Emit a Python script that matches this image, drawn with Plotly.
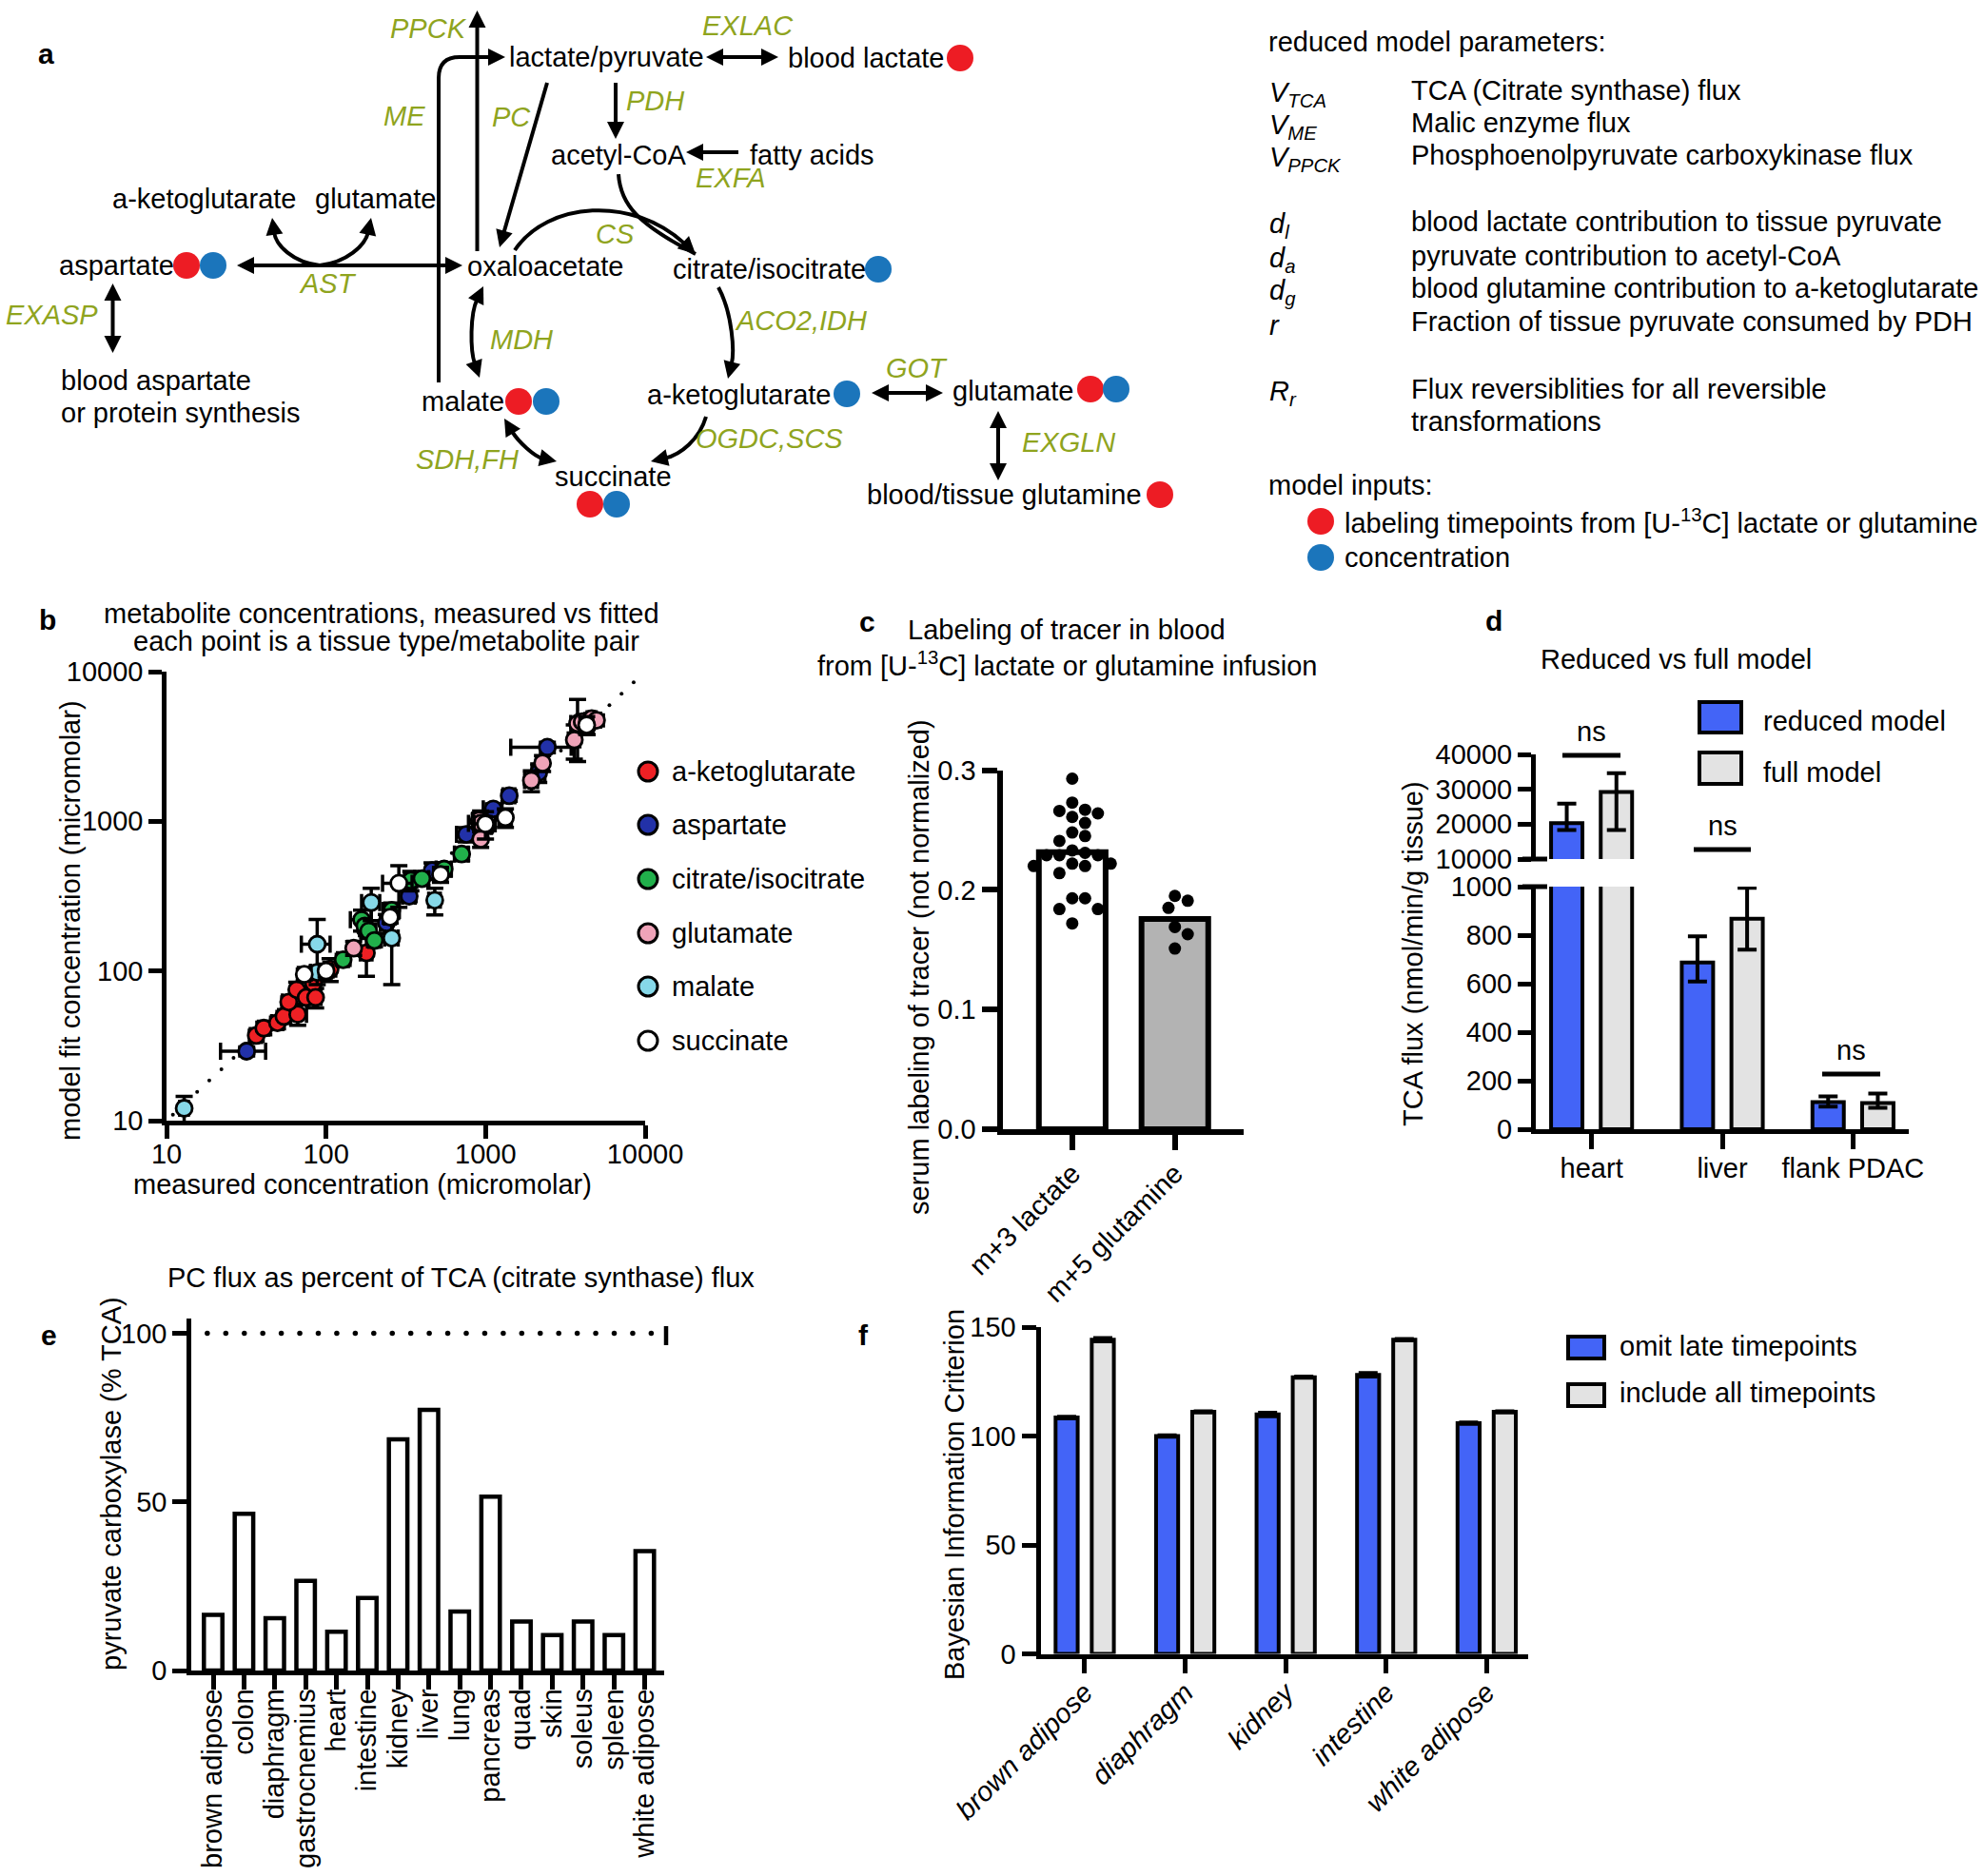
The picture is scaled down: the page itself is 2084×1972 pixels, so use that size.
import math
import numpy as np
import plotly.graph_objects as go

W, H = 2084, 1972
FONT = "Liberation Sans, Arial, Helvetica, sans-serif"
FS = 29
GREEN = "#8FA41E"
RED = "#ED1C24"
DOTBLUE = "#1B75BB"
BARBLUE = "#4364F7"
BARGRAY = "#E3E3E3"

# ======================= DATA =======================
# panel b: measured vs model-fit concentration (micromolar)
akg_meas = [36.5, 40.7, 49.6, 54.4, 66.4, 58.3, 65.5, 75.0, 83.4, 86.0, 106, 179]
akg_fit = [37.1, 41.5, 45.1, 49.7, 51.4, 62.0, 75.0, 66.6, 83.0, 66.6, 103, 132]
akg_meas_err = [3, 3, 4, 4, 9, 5, 5, 6, 7, 7, 9, 15]
akg_fit_err = [3, 4, 4, 4, 8, 5, 9, 6, 7, 10, 18, 40]

asp_meas = [31.8, 239, 332, 462, 757, 998, 1117, 1406, 2153, 2438]
asp_fit = [29.1, 209, 316, 468, 818, 925, 1210, 1483, 2120, 3126]
asp_meas_err = [10, 20, 30, 40, 100, 90, 150, 120, 200, 1000]
asp_fit_err = [2, 30, 25, 60, 90, 80, 100, 120, 300, 250]

cit_meas = [128, 167, 175, 185, 201, 258, 340, 399, 550, 708]
cit_fit = [119, 220, 200, 185, 160, 254, 403, 414, 480, 605]
cit_meas_err = [10, 25, 15, 20, 15, 30, 30, 40, 60, 70]
cit_fit_err = [10, 35, 15, 20, 15, 30, 60, 40, 50, 60]

glu_meas = [149, 912, 931, 931, 1936, 2275, 3597, 3770, 4033, 4325, 4627, 4957]
glu_fit = [142, 1019, 760, 970, 1875, 2449, 3500, 4510, 4624, 4295, 4853, 4735]
glu_meas_err = [12, 80, 70, 150, 180, 200, 300, 350, 300, 300, 300, 300]
glu_fit_err = [15, 100, 90, 200, 300, 300, 900, 2000, 400, 500, 400, 400]

mal_meas = [12.9, 88, 88, 192, 258, 480]
mal_fit = [12.1, 98, 151, 287, 166, 297]
mal_meas_err = [0.8, 8, 18, 25, 25, 40]
mal_fit_err = [2.4, 10, 70, 70, 85, 60]

suc_meas = [73, 100, 252, 286, 522, 998, 1331, 4300]
suc_fit = [95, 100, 229, 386, 441, 960, 1059, 4400]
suc_meas_err = [6, 8, 20, 60, 50, 150, 120, 400]
suc_fit_err = [8, 9, 20, 120, 50, 200, 150, 600]

b_names = ["a-ketoglutarate", "aspartate", "citrate/isocitrate", "glutamate", "malate", "succinate"]
b_ticks = [10, 100, 1000, 10000]

# panel c: serum labeling of tracer
c_labels = ["m+3 lactate", "m+5 glutamine"]
c_lactate = [0.293, 0.273, 0.267, 0.266, 0.264, 0.261, 0.256, 0.248, 0.245, 0.241,
             0.233, 0.231, 0.229, 0.229, 0.229, 0.222, 0.222, 0.220, 0.220, 0.214,
             0.193, 0.193, 0.184, 0.184, 0.172]
c_glutamine = [0.191, 0.195, 0.185, 0.169, 0.163, 0.151]
c_ticks = [0.0, 0.1, 0.2, 0.3]

# panel d: TCA flux, reduced vs full model
d_groups = ["heart", "liver", "flank PDAC"]
d_reduced = [20300, 687, 112]
d_reduced_up = [5600, 108, 23]
d_reduced_dn = [2000, 78, 19]
d_full = [29200, 868, 108]
d_full_up = [5400, 127, 39]
d_full_dn = [10900, 128, 20]
d_ticks_low = [0, 200, 400, 600, 800, 1000]
d_ticks_high = [10000, 20000, 30000, 40000]

# panel e: PC flux as % of TCA
e_tissues = ["brown adipose", "colon", "diaphragm", "gastrocnemius", "heart", "intestine",
             "kidney", "liver", "lung", "pancreas", "quad", "skin", "soleus", "spleen",
             "white adipose"]
e_values = [16.5, 46.5, 15.5, 26.6, 11.5, 21.5, 68.6, 77.3, 17.5, 51.6, 14.5, 10.5, 14.5, 10.5, 35.4]
e_ref = 100

# panel f: Bayesian information criterion
f_tissues = ["brown adipose", "diaphragm", "kidney", "intestine", "white adipose"]
f_omit = [108.5, 100.0, 109.9, 128.1, 105.9]
f_omit_err = [0.4, 0.3, 0.8, 0.8, 0.3]
f_all = [144.2, 111.1, 127.0, 144.2, 111.1]
f_all_err = [0.8, 0.3, 0.3, 0.3, 0.3]

# ======================= HELPERS =======================
def X(px):
    return px / W


def Y(py):
    return 1 - py / H


def P(x, y):
    return f"{X(x):.5f},{Y(y):.5f}"


shapes = []
annotations = []


def text(x, y, s, size=FS, color="black", xanchor="center", yanchor="middle",
         italic=False, bold=False, angle=0):
    if italic:
        s = f"<i>{s}</i>"
    if bold:
        s = f"<b>{s}</b>"
    annotations.append(dict(x=X(x), y=Y(y), xref="paper", yref="paper", text=s,
                            showarrow=False, xanchor=xanchor, yanchor=yanchor,
                            textangle=angle,
                            font=dict(family=FONT, size=size, color=color)))


def seg(x0, y0, x1, y1, w=4, color="black"):
    shapes.append(dict(type="line", xref="paper", yref="paper", x0=X(x0), y0=Y(y0),
                       x1=X(x1), y1=Y(y1), line=dict(color=color, width=w)))


def head(tip, frm, L=18, hw=9):
    dx, dy = tip[0] - frm[0], tip[1] - frm[1]
    n = math.hypot(dx, dy)
    ux, uy = dx / n, dy / n
    bx, by = tip[0] - L * ux, tip[1] - L * uy
    nx, ny = -uy, ux
    p1 = (bx + hw * nx, by + hw * ny)
    p2 = (bx - hw * nx, by - hw * ny)
    shapes.append(dict(type="path", xref="paper", yref="paper",
                       path=f"M {P(*tip)} L {P(*p1)} L {P(*p2)} Z",
                       fillcolor="black", line=dict(width=0)))
    return (tip[0] - 0.85 * L * ux, tip[1] - 0.85 * L * uy)


def arrow(p0, p1, both=False, w=4):
    b = head(p1, p0)
    a = head(p0, p1) if both else p0
    seg(a[0], a[1], b[0], b[1], w=w)


def curve(p0, c1, c2, p3, both=False, end_head=True, w=4):
    e = head(p3, c2) if end_head else p3
    s = head(p0, c1) if both else p0
    shapes.append(dict(type="path", xref="paper", yref="paper",
                       path=f"M {P(*s)} C {P(*c1)} {P(*c2)} {P(*e)}",
                       fillcolor="rgba(0,0,0,0)", line=dict(color="black", width=w)))


def dot(cx, cy, color, r=14, lw=0):
    shapes.append(dict(type="circle", xref="paper", yref="paper",
                       x0=X(cx - r), x1=X(cx + r), y0=Y(cy + r), y1=Y(cy - r),
                       fillcolor=color, line=dict(color="black", width=lw)))


def rect(x0, y0, x1, y1, color, lw=4):
    shapes.append(dict(type="rect", xref="paper", yref="paper",
                       x0=X(x0), x1=X(x1), y0=Y(y1), y1=Y(y0),
                       fillcolor=color, line=dict(color="black", width=lw)))


def axis(dom_px, rng, lw=4.5, ticklen=14, **kw):
    d = dict(domain=dom_px, range=rng, showline=True, linecolor="black", linewidth=lw,
             ticks="outside", ticklen=ticklen, tickwidth=lw, tickcolor="black",
             showgrid=False, zeroline=False, fixedrange=True, automargin=False,
             tickfont=dict(family=FONT, size=FS, color="black"))
    d.update(kw)
    return d


# ======================= PANEL A (diagram) =======================
text(48, 57, "a", size=30, bold=True)
text(533, 60, "lactate/pyruvate", xanchor="left")
text(826, 61, "blood lactate", xanchor="left")
text(650, 163, "acetyl-CoA")
text(786, 163, "fatty acids", xanchor="left")
text(214, 209, "a-ketoglutarate")
text(394, 209, "glutamate")
text(122, 279, "aspartate")
text(573, 280, "oxaloacetate")
text(705, 283, "citrate/isocitrate", xanchor="left")
text(62, 400, "blood aspartate", xanchor="left")
text(62, 434, "or protein synthesis", xanchor="left")
text(486, 422, "malate")
text(678, 415, "a-ketoglutarate", xanchor="left")
text(999, 411, "glutamate", xanchor="left")
text(644, 501, "succinate")
text(909, 520, "blood/tissue glutamine", xanchor="left")
for (ex_, ey_, lab) in [(450, 30, "PPCK"), (786, 27, "EXLAC"), (425, 122, "ME"), (537, 123, "PC"),
                        (688, 106, "PDH"), (768, 187, "EXFA"), (646, 246, "CS"), (344, 298, "AST"),
                        (54, 331, "EXASP"), (548, 357, "MDH"), (841, 337, "ACO2,IDH"),
                        (963, 387, "GOT"), (491, 483, "SDH,FH"), (808, 461, "OGDC,SCS"),
                        (1123, 465, "EXGLN")]:
    text(ex_, ey_, lab, color=GREEN, italic=True)
arrow((501.5, 264), (501.5, 11))                      # PPCK
e_me = head((531, 60), (483, 60))                      # ME
shapes.append(dict(type="path", xref="paper", yref="paper",
                   path=f"M {P(461, 402)} L {P(461, 82)} Q {P(461, 60)} {P(483, 60)} L {P(*e_me)}",
                   fillcolor="rgba(0,0,0,0)", line=dict(color="black", width=4)))
arrow((575, 87), (525, 260))                           # PC
arrow((647, 87), (647, 146))                           # PDH
arrow((776, 160), (721, 160))                          # EXFA
arrow((742, 60), (818, 60), both=True)                 # EXLAC
curve((541, 263), (575, 212), (665, 205), (731, 267))  # CS
curve((650, 183), (652, 215), (670, 235), (731, 267), end_head=False)
arrow((249, 279), (486, 279), both=True)               # AST
curve((336, 279), (308, 276), (290, 258), (286, 229))
curve((336, 279), (364, 276), (384, 258), (390, 229))
arrow((118.5, 298), (118.5, 371), both=True)           # EXASP
curve((508, 301), (494, 330), (494, 368), (504, 397), both=True)   # MDH
curve((755, 302), (770, 330), (772, 370), (765, 398))  # ACO2,IDH
arrow((916, 413), (991, 413), both=True)               # GOT
curve((530, 440), (545, 465), (562, 480), (585, 485), both=True)   # SDH,FH
curve((742, 438), (735, 462), (715, 478), (684, 485))  # OGDC,SCS
arrow((1049, 432), (1049, 505), both=True)             # EXGLN
for (cx, cy, col) in [(1009, 61, RED), (196, 279, RED), (224, 279, DOTBLUE), (923, 283, DOTBLUE),
                      (545, 422, RED), (574, 422, DOTBLUE), (890, 414, DOTBLUE),
                      (1146, 409, RED), (1173, 409, DOTBLUE), (620, 530, RED), (648, 530, DOTBLUE),
                      (1219, 520, RED)]:
    dot(cx, cy, col)

text(1331, 44, "reduced model parameters:", xanchor="left")
params = [("<i>V<sub>TCA</sub></i>", "TCA (Citrate synthase) flux", 95),
          ("<i>V<sub>ME</sub></i>", "Malic enzyme flux", 129),
          ("<i>V<sub>PPCK</sub></i>", "Phosphoenolpyruvate carboxykinase flux", 163),
          ("<i>d<sub>l</sub></i>", "blood lactate contribution to tissue pyruvate", 233),
          ("<i>d<sub>a</sub></i>", "pyruvate contribution to acetyl-CoA", 269),
          ("<i>d<sub>g</sub></i>", "blood glutamine contribution to a-ketoglutarate", 303),
          ("<i>r</i>", "Fraction of tissue pyruvate consumed by PDH", 338),
          ("<i>R<sub>r</sub></i>", "Flux reversiblities for all reversible", 409)]
for sym, desc, yy in params:
    text(1332, yy + 4, sym, xanchor="left")
    text(1481, yy, desc, xanchor="left")
text(1481, 443, "transformations", xanchor="left")
text(1331, 510, "model inputs:", xanchor="left")
dot(1388, 548, RED, r=14)
text(1411, 548, "labeling timepoints from [U-<sup>13</sup>C] lactate or glutamine", xanchor="left")
dot(1388, 586, DOTBLUE, r=14)
text(1411, 586, "concentration", xanchor="left")

# ======================= FIGURE =======================
fig = go.Figure()

# ---------- panel b ----------
text(50, 651, "b", size=30, bold=True)
text(401, 645, "metabolite concentrations, measured vs fitted")
text(406, 674, "each point is a tissue type/metabolite pair")
text(381, 1245, "measured concentration (micromolar)")
text(74, 968, "model fit concentration (micromolar)", angle=-90)

diag = 10 ** np.arange(1.04, 4.26, 0.076)
fig.add_trace(go.Scatter(x=diag, y=diag, mode="markers", xaxis="x", yaxis="y",
                         marker=dict(size=4, color="black"), cliponaxis=False,
                         hoverinfo="skip"))
b_sets = [(akg_meas, akg_fit, akg_meas_err, akg_fit_err, "#EE2024"),
          (asp_meas, asp_fit, asp_meas_err, asp_fit_err, "#2231A8"),
          (cit_meas, cit_fit, cit_meas_err, cit_fit_err, "#21B04B"),
          (glu_meas, glu_fit, glu_meas_err, glu_fit_err, "#EFA3B8"),
          (mal_meas, mal_fit, mal_meas_err, mal_fit_err, "#86D8E8"),
          (suc_meas, suc_fit, suc_meas_err, suc_fit_err, "#FFFFFF")]
for (bx, by, bxe, bye, col), nm in zip(b_sets, b_names):
    fig.add_trace(go.Scatter(x=bx, y=by, mode="markers", name=nm, xaxis="x", yaxis="y",
                             cliponaxis=False,
                             error_x=dict(type="data", array=bxe, color="black", thickness=3.5, width=9),
                             error_y=dict(type="data", array=bye, color="black", thickness=3.5, width=9),
                             marker=dict(size=17, color=col, line=dict(color="black", width=2.8))))
b_leg_y = [811, 867, 924, 981, 1037, 1094]
for (_, _, _, _, col), nm, ly in zip(b_sets, b_names, b_leg_y):
    dot(681, ly, col, r=10, lw=3)
    text(704, ly, nm, xanchor="left")

# ---------- panel c ----------
text(911, 653, "c", size=30, bold=True)
text(1121, 662, "Labeling of tracer in blood")
text(1121, 698, "from [U-<sup>13</sup>C] lactate or glutamine infusion")
text(966, 1017, "serum labeling of tracer (not normalized)", angle=-90)

c_sets = [c_lactate, c_glutamine]
c_fill = ["white", "#B3B3B3"]
for i, (vals, fc) in enumerate(zip(c_sets, c_fill)):
    fig.add_trace(go.Bar(x=[i], y=[float(np.mean(vals))], width=0.65, xaxis="x2", yaxis="y2",
                         marker=dict(color=fc, line=dict(color="black", width=6))))


def swarm(vals, px_y, diam):
    placed = []
    res = [0.0] * len(vals)
    order = sorted(range(len(vals)), key=lambda k: -vals[k])
    for k in order:
        yv = vals[k] * px_y
        best = None
        step = 0
        while best is None:
            for s in ([0] if step == 0 else [1, -1]):
                xo = s * step * diam * 0.5
                if all((xo - px) ** 2 + (yv - py) ** 2 >= diam ** 2 for px, py in placed):
                    best = xo
                    break
            step += 1
        placed.append((best, yv))
        res[k] = best
    return res


C_PX_Y = (1187 - 809.7) / 0.3
C_PX_X = 108.0
for i, vals in enumerate(c_sets):
    offs = swarm(vals, C_PX_Y, 13.5)
    fig.add_trace(go.Scatter(x=[i + o / C_PX_X for o in offs], y=vals, mode="markers",
                             xaxis="x2", yaxis="y2", cliponaxis=False,
                             marker=dict(size=13, color="black")))

# ---------- panel d ----------
text(1570, 652, "d", size=30, bold=True)
text(1761, 693, "Reduced vs full model")
text(1485, 1003, "TCA flux (nmol/min/g tissue)", angle=-90)
gx = np.arange(len(d_groups))
for yax in ["y3", "y4"]:
    fig.add_trace(go.Bar(x=gx - 0.19, y=d_reduced, width=0.24, xaxis="x3", yaxis=yax,
                         marker=dict(color=BARBLUE, line=dict(color="black", width=4)),
                         error_y=dict(type="data", symmetric=False, array=d_reduced_up,
                                      arrayminus=d_reduced_dn, color="black", thickness=4, width=10)))
    fig.add_trace(go.Bar(x=gx + 0.19, y=d_full, width=0.24, xaxis="x3", yaxis=yax,
                         marker=dict(color=BARGRAY, line=dict(color="black", width=4)),
                         error_y=dict(type="data", symmetric=False, array=d_full_up,
                                      arrayminus=d_full_dn, color="black", thickness=4, width=10)))
seg(1600, 903, 1626, 903, w=5)
seg(1600, 932, 1626, 932, w=5)
for (x0, x1, ly) in [(1642, 1703, 794), (1780, 1840, 893), (1915, 1976, 1129)]:
    seg(x0, ly, x1, ly, w=5)
    text((x0 + x1) / 2, ly - 25, "ns")
rect(1786, 738, 1830, 770, BARBLUE)
text(1851, 758, "reduced model", xanchor="left")
rect(1786, 791, 1830, 824, BARGRAY)
text(1851, 812, "full model", xanchor="left")

# ---------- panel e ----------
text(51, 1403, "e", size=30, bold=True)
text(174, 1343, "PC flux as percent of TCA (citrate synthase) flux", xanchor="left")
text(117, 1560, "pyruvate carboxylase (% TCA)", angle=-90)
ex = np.arange(len(e_tissues))
fig.add_trace(go.Bar(x=ex, y=e_values, width=0.6, xaxis="x4", yaxis="y5",
                     marker=dict(color="white", line=dict(color="black", width=4.5))))
ref_x = np.arange(-0.19, 14.4, 0.6)
fig.add_trace(go.Scatter(x=ref_x, y=[e_ref] * len(ref_x), mode="markers", xaxis="x4", yaxis="y5",
                         cliponaxis=False, marker=dict(size=5.5, color="black")))
seg(700, 1394, 700, 1414, w=4.5)

# ---------- panel f ----------
text(907, 1403, "f", size=30, bold=True)
text(1003, 1571, "Bayesian Information Criterion", angle=-90)
fx = np.arange(len(f_tissues))
fig.add_trace(go.Bar(x=fx - 0.18, y=f_omit, width=0.22, xaxis="x5", yaxis="y6",
                     marker=dict(color=BARBLUE, line=dict(color="black", width=4)),
                     error_y=dict(type="data", array=f_omit_err, color="black", thickness=4, width=10)))
fig.add_trace(go.Bar(x=fx + 0.18, y=f_all, width=0.22, xaxis="x5", yaxis="y6",
                     marker=dict(color=BARGRAY, line=dict(color="black", width=4)),
                     error_y=dict(type="data", array=f_all_err, color="black", thickness=4, width=10)))
rect(1648, 1405, 1686, 1428, BARBLUE)
text(1700, 1415, "omit late timepoints", xanchor="left")
rect(1648, 1455, 1686, 1478, BARGRAY)
text(1700, 1464, "include all timepoints", xanchor="left")

# ======================= LAYOUT =======================
fig.update_layout(
    template="none",
    width=W, height=H, margin=dict(l=0, r=0, t=0, b=0, pad=0), autosize=False,
    paper_bgcolor="white", plot_bgcolor="white", showlegend=False,
    barmode="overlay", font=dict(family=FONT, size=FS, color="black"),
    shapes=shapes, annotations=annotations,
    xaxis=axis([X(175), X(678)], [1, 4], type="log", anchor="y", ticklabelstandoff=-9,
               tickvals=b_ticks, ticktext=[str(v) for v in b_ticks]),
    yaxis=axis([Y(1178), Y(706)], [1, 4], type="log", anchor="x",
               tickvals=b_ticks, ticktext=[str(v) for v in b_ticks]),
    xaxis2=axis([X(1053.5), X(1307)], [-0.68, 1.67], lw=6, ticklen=16, anchor="y2",
                ticklabelstandoff=-4,
                tickvals=[0, 1], ticktext=c_labels, tickangle=-45),
    yaxis2=axis([Y(1187), Y(809.7)], [0, 0.3], lw=6, ticklen=16, anchor="x2",
                tickvals=c_ticks, ticktext=[f"{v:.1f}" for v in c_ticks]),
    xaxis3=axis([X(1614), X(2006)], [-0.427, 2.427], lw=5, ticklen=16, anchor="y3",
                ticklabelstandoff=-5,
                tickvals=list(gx), ticktext=d_groups, tickangle=0),
    yaxis3=axis([Y(1187), Y(932)], [0, 1000], lw=5, ticklen=14, anchor="x3",
                tickvals=d_ticks_low, ticktext=[str(v) for v in d_ticks_low]),
    yaxis4=axis([Y(903), Y(793)], [10000, 40000], lw=5, ticklen=14, anchor="x3",
                tickvals=d_ticks_high, ticktext=[str(v) for v in d_ticks_high]),
    xaxis4=axis([X(201), X(698)], [-0.71, 14.63], lw=4.5, ticklen=15, anchor="y5",
                ticklabelstandoff=-12,
                tickvals=list(ex), ticktext=e_tissues, tickangle=-90),
    yaxis5=axis([Y(1756), Y(1386)], [0, 104.4], lw=4.5, ticklen=15, anchor="x4",
                tickvals=[0, 50, 100], ticktext=["0", "50", "100"]),
    xaxis5=axis([X(1093.5), X(1605.7)], [-0.44, 4.41], lw=5, ticklen=15, anchor="y6",
                ticklabelstandoff=-8,
                tickvals=list(fx), ticktext=[f"<i>{t}</i>" for t in f_tissues], tickangle=-45),
    yaxis6=axis([Y(1738.6), Y(1395)], [0, 150], lw=5, ticklen=15, anchor="x5",
                tickvals=[0, 50, 100, 150], ticktext=["0", "50", "100", "150"]),
)

fig.write_html("out.html", config={"displayModeBar": False},
               post_script="document.body.style.margin='0';")
